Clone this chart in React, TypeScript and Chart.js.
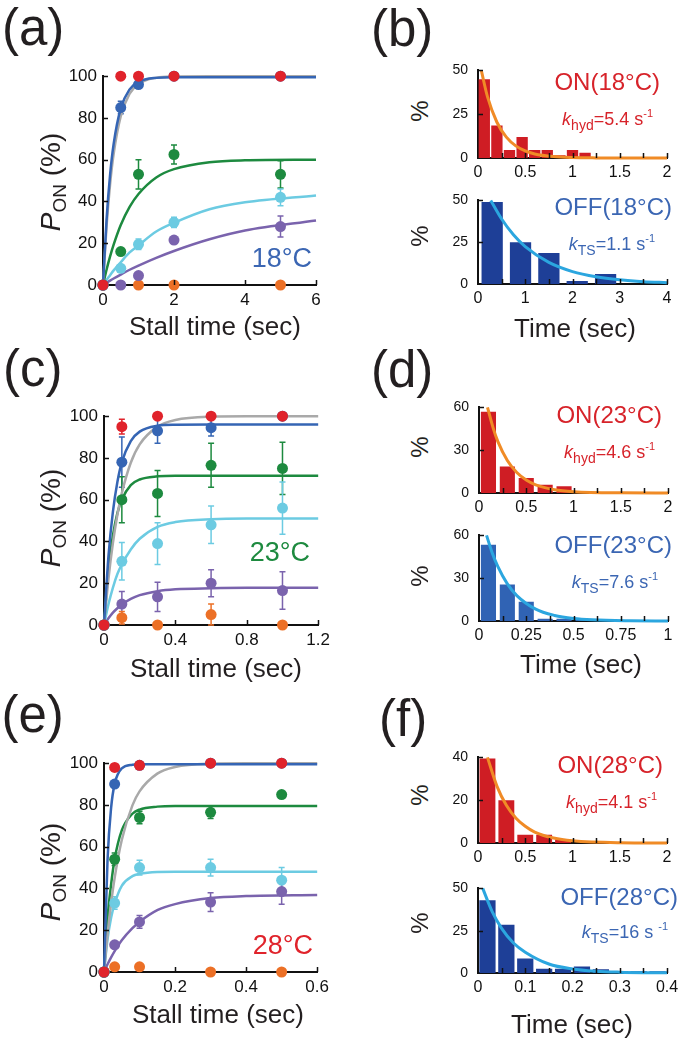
import React, { useEffect, useRef } from "react";
import { Chart, registerables } from "chart.js";
Chart.register(...registerables);

const FONT = "'Liberation Sans', Arial, Helvetica, sans-serif";
const PAGE_W = 685;

const COL = {
  red: "#e0232b",
  blue: "#3565b4",
  green: "#1d8a3f",
  cyan: "#6ccbe2",
  purple: "#7a63ad",
  orange: "#ec7026",
  gray: "#a9a9a9",
  onBar: "#cf1d24",
  offBarDark: "#1e3f97",
  offBarLight: "#3063b4",
  onFit: "#f08b26",
  offFit: "#2ba6df",
  textRed: "#d7232a",
  textBlue: "#3b66b3",
};

// ---------- (a) 18 °C ----------
const aTime = [0, 0.5, 1, 2, 5];
const aRed = [0, 100, 100, 100, 100];
const aBlue = [0, 85, 96, 100, 100];
const aBlueErr = [0, 3, 1.5, 0, 0];
const aGreen = [0, 16, 53, 62.5, 53];
const aGreenErr = [0, 1.5, 7, 4.5, 6.5];
const aCyan = [0, 8, 19.5, 30, 42];
const aCyanErr = [0, 1, 2.5, 2.5, 4];
const aPurple = [0, 0, 4.5, 21.5, 28];
const aPurpleErr = [0, 0, 0, 1, 5];
const aOrangeTime = [1, 2, 5];
const aOrange = [0, 0, 0];
const aFitTime = [0, 0.1, 0.2, 0.3, 0.5, 0.75, 1, 1.5, 2, 3, 4, 6];
const aFitGray = [0, 28.1, 48.3, 62.8, 80.8, 91.6, 96.3, 99.3, 99.9, 100, 100, 100];
const aFitBlue = [0, 31.2, 52.9, 67.6, 84.6, 93.7, 97.3, 99.2, 99.5, 99.5, 99.5, 99.5];
const aFitGreen = [0, 7.3, 13.7, 19.3, 28.7, 37.4, 43.6, 51.5, 55.5, 58.8, 59.7, 60];
const aFitCyan = [0, 2.4, 4.7, 7.0, 10.9, 15.6, 19.0, 25.6, 29.8, 36.3, 39.6, 42.9];
const aFitPurple = [0, 1.05, 2.1, 3.1, 5.0, 7.3, 9.3, 13.0, 16.3, 21.9, 26.1, 30.9];

// ---------- (c) 23 °C ----------
const cTime = [0, 0.1, 0.3, 0.6, 1.0];
const cRed = [0, 95, 100, 100, 100];
const cRedErr = [0, 3.5, 0, 0, 0];
const cBlue = [0, 78, 93, 94.5, 100];
const cBlueErr = [0, 12, 6, 4, 0];
const cGreen = [0, 60, 63, 76.5, 75];
const cGreenErr = [0, 11, 11, 10.5, 12.5];
const cCyan = [0, 30.5, 39, 48, 56];
const cCyanErr = [0, 9, 10, 9, 12.5];
const cPurple = [0, 10, 13.5, 20, 16.5];
const cPurpleErr = [0, 6, 7, 6.5, 9];
const cOrange = [0, 3.5, 0, 5, 0];
const cOrangeErr = [0, 3, 0, 5, 0];
const cFitTime = [0, 0.025, 0.05, 0.075, 0.1, 0.15, 0.2, 0.3, 0.4, 0.6, 0.8, 1.2];
const cFitGray = [0, 22.1, 39.3, 52.8, 63.2, 77.7, 86.5, 95.0, 98.2, 99.8, 100, 100];
const cFitBlue = [0, 33.0, 54.3, 68.5, 78.0, 88.1, 92.6, 95.4, 95.9, 96, 96, 96];
const cFitGreen = [0, 26.9, 42.9, 53.6, 60.1, 67.0, 69.7, 71.2, 71.5, 71.5, 71.5, 71.5];
const cFitCyan = [0, 9.9, 17.9, 24.4, 29.0, 36.2, 41.3, 47.0, 49.3, 50.7, 51, 51];
const cFitPurple = [0, 3.2, 5.9, 8.0, 9.8, 12.5, 14.3, 16.2, 17.1, 17.6, 17.8, 17.8];

// ---------- (e) 28 °C ----------
const eTime = [0, 0.03, 0.1, 0.3, 0.5];
const eRed = [0, 98, 99, 100, 100];
const eBlue = [0, 90, 99, 100, 100];
const eGreen = [0, 54, 74, 76.5, 85];
const eGreenErr = [0, 3, 3, 3, 1];
const eCyan = [0, 33, 50, 50, 44];
const eCyanErr = [0, 3, 3.5, 4, 6];
const ePurple = [0, 13, 24, 33.5, 38.5];
const ePurpleErr = [0, 1, 3, 4.5, 6];
const eOrange = [0, 2.5, 2.5, 0, 0];
const eFitTime = [0, 0.01, 0.02, 0.03, 0.05, 0.08, 0.1, 0.15, 0.2, 0.3, 0.4, 0.6];
const eFitGray = [0, 18.1, 33.0, 45.1, 63.2, 79.8, 86.5, 95.0, 98.2, 99.8, 100, 100];
const eFitBlue = [0, 53.9, 78.6, 90.1, 97.5, 99.3, 99.5, 99.5, 99.5, 99.5, 99.5, 99.5];
const eFitGreen = [0, 25.9, 42.0, 54.1, 67.8, 75.8, 77.8, 79.2, 79.5, 79.5, 79.5, 79.5];
const eFitCyan = [0, 15.8, 26.0, 32.8, 41.3, 45.9, 47.0, 47.9, 48, 48, 48, 48];
const eFitPurple = [0, 3.7, 7.0, 10.0, 15.2, 21.0, 24.0, 29.6, 32.5, 35.4, 36.4, 36.9];

// ---------- (b) histograms 18 °C ----------
const bOnTime = [0.0667, 0.2, 0.333, 0.467, 0.6, 0.733, 0.867, 1.0, 1.133, 1.267, 1.4, 1.533, 1.667, 1.8, 1.933];
const bOnPct = [45, 18.5, 4.5, 12, 4.5, 4.5, 1.5, 4.5, 3, 0, 0, 0, 0, 0, 0];
const bOnFitTime = [0.035, 0.1, 0.2, 0.3, 0.4, 0.5, 0.6, 0.8, 1.0, 1.25, 1.5, 2.0];
const bOnFit = [50, 35, 20.4, 11.9, 6.9, 4.0, 2.3, 0.8, 0.27, 0.07, 0.02, 0];
const bOffTime = [0.3, 0.9, 1.5, 2.1, 2.7, 3.3, 3.9];
const bOffPct = [49, 25, 18.5, 1.8, 6, 0, 0];
const bOffFitTime = [0.27, 0.5, 0.75, 1.0, 1.5, 2.0, 2.5, 3.0, 3.5, 4.0];
const bOffFit = [50, 38.9, 29.5, 22.4, 12.9, 7.4, 4.3, 2.5, 1.4, 0.8];

// ---------- (d) histograms 23 °C ----------
const dOnTime = [0.1, 0.3, 0.5, 0.7, 0.9, 1.1, 1.3, 1.5, 1.7, 1.9];
const dOnPct = [57, 18.5, 10.5, 5.8, 4.7, 0, 0, 0.5, 0, 0];
const dOnFitTime = [0.09, 0.15, 0.2, 0.3, 0.4, 0.5, 0.6, 0.8, 1.0, 1.5, 2.0];
const dOnFit = [60, 45.5, 36, 22.8, 14.4, 9.1, 5.7, 2.3, 0.9, 0.1, 0];
const dOffTime = [0.05, 0.15, 0.25, 0.35, 0.45, 0.55, 0.65, 0.75, 0.85, 0.95];
const dOffPct = [53.5, 25.5, 13.5, 1.5, 1.5, 1, 0, 0, 0, 0];
const dOffFitTime = [0.04, 0.07, 0.1, 0.15, 0.2, 0.3, 0.4, 0.5, 0.6, 0.8, 1.0];
const dOffFit = [60, 47.7, 38.1, 26.0, 17.8, 8.3, 3.9, 1.8, 0.85, 0.2, 0.04];

// ---------- (f) histograms 28 °C ----------
const fOnTime = [0.1, 0.3, 0.5, 0.7, 0.9, 1.1, 1.3, 1.5, 1.7, 1.9];
const fOnPct = [39.5, 20, 3.8, 3.8, 1.6, 0, 0, 0, 0, 0];
const fOnFitTime = [0.1, 0.2, 0.3, 0.4, 0.5, 0.6, 0.8, 1.0, 1.5, 2.0];
const fOnFit = [40, 26.6, 17.6, 11.7, 7.8, 5.1, 2.3, 1.0, 0.13, 0.02];
const fOffTime = [0.02, 0.06, 0.1, 0.14, 0.18, 0.22, 0.26, 0.3, 0.34, 0.38];
const fOffPct = [43, 28.5, 8.5, 2.5, 2.5, 3.8, 2.2, 1.1, 1.1, 1.1];
const fOffFitTime = [0.01, 0.03, 0.05, 0.075, 0.1, 0.15, 0.2, 0.25, 0.3, 0.35, 0.4];
const fOffFit = [50, 36.3, 26.4, 17.7, 12.3, 5.3, 2.4, 1.07, 0.48, 0.2, 0.1];

// ---------- plugins ----------
const errorBarPlugin = {
  id: "errorBars",
  beforeDatasetsDraw(chart: any) {
    const ctx = chart.ctx;
    const yS = chart.scales.y;
    chart.data.datasets.forEach((ds: any, i: number) => {
      const errs = ds.errors;
      if (!errs) return;
      const meta = chart.getDatasetMeta(i);
      ctx.save();
      ctx.strokeStyle = ds.backgroundColor;
      ctx.lineWidth = 1.5;
      meta.data.forEach((el: any, j: number) => {
        const e = errs[j];
        if (!e) return;
        const v = ds.data[j].y;
        const y1 = yS.getPixelForValue(v + e);
        const y2 = yS.getPixelForValue(v - e);
        ctx.beginPath();
        ctx.moveTo(el.x, y1);
        ctx.lineTo(el.x, y2);
        ctx.moveTo(el.x - 3, y1);
        ctx.lineTo(el.x + 3, y1);
        ctx.moveTo(el.x - 3, y2);
        ctx.lineTo(el.x + 3, y2);
        ctx.stroke();
      });
      ctx.restore();
    });
  },
};

const innerTicksPlugin = {
  id: "innerTicks",
  afterDatasetsDraw(chart: any, _args: any, opts: any) {
    const { ctx, chartArea: a, scales } = chart;
    const x = scales.x;
    const y = scales.y;
    ctx.save();
    ctx.strokeStyle = "#111";
    ctx.lineWidth = 1.5;
    ctx.beginPath();
    const nx = Math.round((x.max - x.min) / opts.xStep);
    for (let i = 1; i <= nx; i++) {
      const px = Math.round(x.getPixelForValue(x.min + i * opts.xStep)) + 0.5;
      ctx.moveTo(px, a.bottom);
      ctx.lineTo(px, a.bottom - 5);
    }
    const ny = Math.round((y.max - y.min) / opts.yStep);
    for (let i = 1; i <= ny; i++) {
      const py = Math.round(y.getPixelForValue(y.min + i * opts.yStep)) + 0.5;
      ctx.moveTo(a.left, py);
      ctx.lineTo(a.left + 5, py);
    }
    ctx.stroke();
    ctx.restore();
  },
};

// ---------- helpers ----------
type Pad = { ly: number; pt: number; pr: number; hx: number };
const LEFT: Pad = { ly: 56, pt: 12, pr: 16, hx: 32 };
const RIGHT: Pad = { ly: 44, pt: 10, pr: 18, hx: 26 };

const xy = (xs: number[], ys: number[]) => xs.map((x, i) => ({ x, y: ys[i] }));
const fmt = (v: any) => String(Math.round(Number(v) * 1000) / 1000);

function makeScales(pad: Pad, xMax: number, xStep: number, yMax: number, yStep: number, xFont: number, yFont: number, yPad: number, xPad: number) {
  return {
    x: {
      type: "linear",
      min: 0,
      max: xMax,
      offset: false,
      ticks: { stepSize: xStep, autoSkip: false, maxRotation: 0, color: "#111", padding: xPad, font: { family: FONT, size: xFont }, callback: fmt },
      grid: { display: false, drawTicks: false, tickLength: 0 },
      border: { display: true, color: "#111", width: 2 },
      afterFit: (s: any) => {
        s.height = pad.hx;
      },
    },
    y: {
      type: "linear",
      min: 0,
      max: yMax,
      ticks: { stepSize: yStep, color: "#111", padding: yPad, font: { family: FONT, size: yFont }, callback: fmt },
      grid: { display: false, drawTicks: false, tickLength: 0 },
      border: { display: true, color: "#111", width: 2 },
      afterFit: (s: any) => {
        s.width = pad.ly;
      },
    },
  };
}

function baseOptions(pad: Pad, scales: any, xTick: number, yTick: number) {
  return {
    responsive: false,
    animation: false,
    devicePixelRatio: 1,
    events: [],
    layout: { padding: { top: pad.pt, right: pad.pr, left: 0, bottom: 0 } },
    plugins: { legend: { display: false }, tooltip: { enabled: false }, innerTicks: { xStep: xTick, yStep: yTick } },
    scales,
  };
}

const pointDs = (xs: number[], ys: number[], color: string, errs?: number[]) => ({
  data: xy(xs, ys),
  showLine: false,
  backgroundColor: color,
  borderColor: color,
  borderWidth: 0,
  pointRadius: 5.5,
  pointHoverRadius: 5.5,
  pointBorderWidth: 0,
  clip: false,
  errors: errs,
});

const fitDs = (xs: number[], ys: number[], color: string, width = 2.5) => ({
  data: xy(xs, ys),
  showLine: true,
  borderColor: color,
  backgroundColor: color,
  borderWidth: width,
  pointRadius: 0,
  cubicInterpolationMode: "monotone",
  fill: false,
  clip: false,
});

function leftConfig(xMax: number, xStep: number, points: any[], fits: any[]) {
  return {
    type: "line",
    data: { datasets: [...points, ...fits] },
    options: baseOptions(LEFT, makeScales(LEFT, xMax, xStep, 100, 20, 17, 17, 6, 5), xStep, 20),
    plugins: [errorBarPlugin, innerTicksPlugin],
  };
}

function rightConfig(
  xMax: number, xStep: number, xMinor: number, yMax: number, yStep: number,
  barX: number[], barY: number[], barColor: string, barPct: number,
  fitX: number[], fitY: number[], fitColor: string
) {
  return {
    type: "bar",
    data: {
      datasets: [
        { ...fitDs(fitX, fitY, fitColor, 3), type: "line", order: 1 },
        {
          type: "bar",
          order: 2,
          data: xy(barX, barY),
          backgroundColor: barColor,
          borderWidth: 0,
          barPercentage: barPct,
          categoryPercentage: 1,
        },
      ],
    },
    options: baseOptions(RIGHT, makeScales(RIGHT, xMax, xStep, yMax, yStep, 16, 14, 10, 5), xMinor, yStep),
    plugins: [innerTicksPlugin],
  };
}

function ChartBox({ rect, pad, make }: { rect: number[]; pad: Pad; make: () => any }) {
  const ref = useRef<HTMLCanvasElement>(null);
  const w = rect[2] - rect[0] + pad.ly + pad.pr;
  const h = rect[3] - rect[1] + pad.pt + pad.hx;
  useEffect(() => {
    const chart = new Chart(ref.current as HTMLCanvasElement, make());
    return () => chart.destroy();
  }, []);
  return (
    <canvas
      ref={ref}
      width={w}
      height={h}
      style={{ position: "absolute", left: rect[0] - pad.ly, top: rect[1] - pad.pt, width: w, height: h }}
    />
  );
}

// ---------- text helpers ----------
function Txt({ x, y, size, color = "#231f20", align = "left", children }: any) {
  const style: any = {
    position: "absolute",
    top: y - 0.8465 * size,
    fontSize: size,
    lineHeight: `${size}px`,
    color,
    whiteSpace: "nowrap",
    fontFamily: FONT,
  };
  if (align === "left") style.left = x;
  else if (align === "right") {
    style.right = PAGE_W - x;
    style.textAlign = "right";
  } else {
    style.left = x - 200;
    style.width = 400;
    style.textAlign = "center";
  }
  return <div style={style}>{children}</div>;
}

function RotTxt({ cx, cy, size, children }: any) {
  return (
    <div
      style={{
        position: "absolute",
        left: cx,
        top: cy,
        fontSize: size,
        lineHeight: `${size}px`,
        color: "#231f20",
        whiteSpace: "nowrap",
        fontFamily: FONT,
        transform: "translate(-50%, -50%) rotate(-90deg)",
      }}
    >
      {children}
    </div>
  );
}

function KLabel({ x, y, sub, rest, sup, color }: any) {
  return (
    <Txt x={x} y={y} size={18} color={color} align="right">
      <i>k</i>
      <span style={{ fontSize: 14, position: "relative", top: 5 }}>{sub}</span>
      {rest}
      <span style={{ fontSize: 11, position: "relative", top: -8 }}>{sup}</span>
    </Txt>
  );
}

const PonLabel = ({ cy }: { cy: number }) => (
  <RotTxt cx={52} cy={cy} size={28}>
    <i>P</i>
    <span style={{ fontSize: 19, position: "relative", top: 6 }}>ON</span> (%)
  </RotTxt>
);

export default function App() {
  const rectA = [103, 72, 316, 285];
  const rectC = [104, 412, 319, 625];
  const rectE = [104, 759, 318, 972];
  const rBOn = [478, 62, 667, 158];
  const rBOff = [478, 192, 667, 284];
  const rDOn = [479, 399, 668, 493];
  const rDOff = [479, 527, 668, 621];
  const rFOn = [478, 749, 667, 843];
  const rFOff = [478, 880, 667, 973];

  const makeA = () =>
    leftConfig(
      6, 2,
      [
        pointDs(aTime, aRed, COL.red),
        pointDs(aTime, aBlue, COL.blue, aBlueErr),
        pointDs(aTime, aGreen, COL.green, aGreenErr),
        pointDs(aTime, aCyan, COL.cyan, aCyanErr),
        pointDs(aTime, aPurple, COL.purple, aPurpleErr),
        pointDs(aOrangeTime, aOrange, COL.orange),
      ],
      [
        fitDs(aFitTime, aFitBlue, COL.blue),
        fitDs(aFitTime, aFitGray, COL.gray),
        fitDs(aFitTime, aFitGreen, COL.green),
        fitDs(aFitTime, aFitCyan, COL.cyan),
        fitDs(aFitTime, aFitPurple, COL.purple),
      ]
    );

  const makeC = () =>
    leftConfig(
      1.2, 0.4,
      [
        pointDs(cTime, cRed, COL.red, cRedErr),
        pointDs(cTime, cBlue, COL.blue, cBlueErr),
        pointDs(cTime, cGreen, COL.green, cGreenErr),
        pointDs(cTime, cCyan, COL.cyan, cCyanErr),
        pointDs(cTime, cPurple, COL.purple, cPurpleErr),
        pointDs(cTime, cOrange, COL.orange, cOrangeErr),
      ],
      [
        fitDs(cFitTime, cFitBlue, COL.blue),
        fitDs(cFitTime, cFitGray, COL.gray),
        fitDs(cFitTime, cFitGreen, COL.green),
        fitDs(cFitTime, cFitCyan, COL.cyan),
        fitDs(cFitTime, cFitPurple, COL.purple),
      ]
    );

  const makeE = () =>
    leftConfig(
      0.6, 0.2,
      [
        pointDs(eTime, eRed, COL.red),
        pointDs(eTime, eBlue, COL.blue),
        pointDs(eTime, eGreen, COL.green, eGreenErr),
        pointDs(eTime, eCyan, COL.cyan, eCyanErr),
        pointDs(eTime, ePurple, COL.purple, ePurpleErr),
        pointDs(eTime, eOrange, COL.orange),
      ],
      [
        fitDs(eFitTime, eFitBlue, COL.blue),
        fitDs(eFitTime, eFitGray, COL.gray),
        fitDs(eFitTime, eFitGreen, COL.green),
        fitDs(eFitTime, eFitCyan, COL.cyan),
        fitDs(eFitTime, eFitPurple, COL.purple),
      ]
    );

  return (
    <div style={{ position: "absolute", left: 0, top: 0, width: PAGE_W, height: 1045, background: "#fff", fontFamily: FONT, overflow: "hidden" }}>
      {/* left column charts */}
      <ChartBox rect={rectA} pad={LEFT} make={makeA} />
      <ChartBox rect={rectC} pad={LEFT} make={makeC} />
      <ChartBox rect={rectE} pad={LEFT} make={makeE} />

      {/* right column charts */}
      <ChartBox rect={rBOn} pad={RIGHT} make={() => rightConfig(2, 0.5, 0.25, 50, 25, bOnTime, bOnPct, COL.onBar, 0.9, bOnFitTime, bOnFit, COL.onFit)} />
      <ChartBox rect={rBOff} pad={RIGHT} make={() => rightConfig(4, 1, 0.5, 50, 25, bOffTime, bOffPct, COL.offBarDark, 0.75, bOffFitTime, bOffFit, COL.offFit)} />
      <ChartBox rect={rDOn} pad={RIGHT} make={() => rightConfig(2, 0.5, 0.25, 60, 30, dOnTime, dOnPct, COL.onBar, 0.8, dOnFitTime, dOnFit, COL.onFit)} />
      <ChartBox rect={rDOff} pad={RIGHT} make={() => rightConfig(1, 0.25, 0.125, 60, 30, dOffTime, dOffPct, COL.offBarLight, 0.8, dOffFitTime, dOffFit, COL.offFit)} />
      <ChartBox rect={rFOn} pad={RIGHT} make={() => rightConfig(2, 0.5, 0.25, 40, 20, fOnTime, fOnPct, COL.onBar, 0.84, fOnFitTime, fOnFit, COL.onFit)} />
      <ChartBox rect={rFOff} pad={RIGHT} make={() => rightConfig(0.4, 0.1, 0.05, 50, 25, fOffTime, fOffPct, COL.offBarDark, 0.86, fOffFitTime, fOffFit, COL.offFit)} />

      {/* panel letters */}
      <Txt x={2} y={45} size={51}>(a)</Txt>
      <Txt x={371} y={46} size={51}>(b)</Txt>
      <Txt x={3} y={386} size={51}>(c)</Txt>
      <Txt x={371} y={387} size={51}>(d)</Txt>
      <Txt x={1.5} y={732} size={51}>(e)</Txt>
      <Txt x={379} y={736} size={51}>(f)</Txt>

      {/* left axis titles */}
      <Txt x={215} y={335} size={26} align="center">Stall time (sec)</Txt>
      <Txt x={216} y={677} size={26} align="center">Stall time (sec)</Txt>
      <Txt x={218} y={1023} size={26} align="center">Stall time (sec)</Txt>
      <PonLabel cy={182} />
      <PonLabel cy={518} />
      <PonLabel cy={872} />

      {/* temperatures */}
      <Txt x={312} y={268} size={27} color={COL.textBlue} align="right">18°C</Txt>
      <Txt x={310} y={562} size={27} color={COL.green} align="right">23°C</Txt>
      <Txt x={313} y={955} size={27} color={COL.red} align="right">28°C</Txt>

      {/* right axis titles */}
      <RotTxt cx={420} cy={111} size={24}>%</RotTxt>
      <RotTxt cx={420} cy={236} size={24}>%</RotTxt>
      <RotTxt cx={420} cy={447} size={24}>%</RotTxt>
      <RotTxt cx={420} cy={576} size={24}>%</RotTxt>
      <RotTxt cx={420} cy={795} size={24}>%</RotTxt>
      <RotTxt cx={420} cy={923} size={24}>%</RotTxt>
      <Txt x={575} y={337} size={26} align="center">Time (sec)</Txt>
      <Txt x={581} y={673} size={26} align="center">Time (sec)</Txt>
      <Txt x={572} y={1033} size={26} align="center">Time (sec)</Txt>

      {/* in-plot labels right column */}
      <Txt x={660} y={90} size={24} color={COL.textRed} align="right">ON(18°C)</Txt>
      <KLabel x={653} y={125} sub="hyd" rest="=5.4 s" sup="-1" color={COL.textRed} />
      <Txt x={672} y={215} size={24} color={COL.textBlue} align="right">OFF(18°C)</Txt>
      <KLabel x={655} y={250} sub="TS" rest="=1.1 s" sup="-1" color={COL.textBlue} />

      <Txt x={662} y={423} size={24} color={COL.textRed} align="right">ON(23°C)</Txt>
      <KLabel x={655} y={458} sub="hyd" rest="=4.6 s" sup="-1" color={COL.textRed} />
      <Txt x={672} y={553} size={24} color={COL.textBlue} align="right">OFF(23°C)</Txt>
      <KLabel x={658} y={588} sub="TS" rest="=7.6 s" sup="-1" color={COL.textBlue} />

      <Txt x={663} y={773} size={24} color={COL.textRed} align="right">ON(28°C)</Txt>
      <KLabel x={657} y={808} sub="hyd" rest="=4.1 s" sup="-1" color={COL.textRed} />
      <Txt x={678} y={905} size={24} color={COL.textBlue} align="right">OFF(28°C)</Txt>
      <KLabel x={668} y={938} sub="TS" rest="=16 s " sup="-1" color={COL.textBlue} />
    </div>
  );
}
